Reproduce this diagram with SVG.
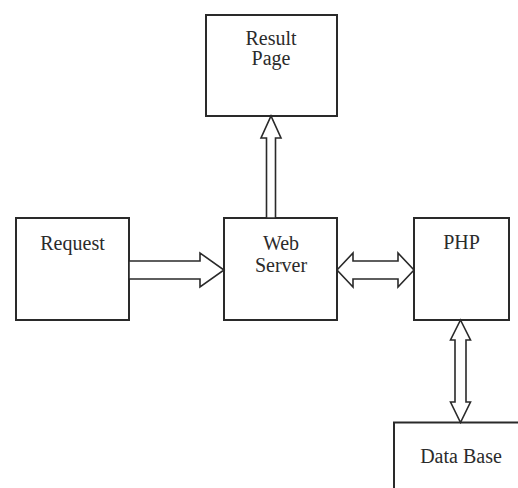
<svg xmlns="http://www.w3.org/2000/svg" width="518" height="488" viewBox="0 0 518 488">
  <style>
    .box { fill: #ffffff; stroke: #2a2a2a; stroke-width: 2; }
    .arrow { fill: #ffffff; stroke: #2a2a2a; stroke-width: 1.6; stroke-linejoin: miter; }
    .label { font-family: "Liberation Serif", "DejaVu Serif", "Times New Roman", serif; font-size: 20px; fill: #2b2b2b; text-anchor: middle; }
  </style>
  <rect width="518" height="488" fill="#ffffff"/>

  <g id="result-page">
    <rect class="box" x="206" y="15" width="131" height="101"/>
    <text class="label" x="271" y="45">Result</text>
    <text class="label" x="271" y="65">Page</text>
  </g>

  <g id="request">
    <rect class="box" x="16" y="218" width="113" height="102"/>
    <text class="label" x="72.5" y="250">Request</text>
  </g>

  <g id="web-server">
    <rect class="box" x="224" y="218" width="113" height="102"/>
    <text class="label" x="281" y="250">Web</text>
    <text class="label" x="281" y="271.5">Server</text>
  </g>

  <g id="php">
    <rect class="box" x="414" y="218" width="95" height="102"/>
    <text class="label" x="461.5" y="248.5">PHP</text>
  </g>

  <g id="data-base">
    <rect class="box" x="394" y="422.5" width="140" height="80"/>
    <text class="label" x="461" y="463">Data Base</text>
  </g>

  <g id="connectors">
    <!-- Request to Web Server -->
    <polygon class="arrow" points="129,261 200,261 200,253 224,270 200,287 200,279 129,279"/>
    <!-- Web Server up to Result Page -->
    <polygon class="arrow" points="266.5,218 266.5,138 261,138 271,116 281,138 275.5,138 275.5,218"/>
    <!-- Web Server to and from PHP -->
    <polygon class="arrow" points="337,270 353,253 353,261 398,261 398,253 414,270 398,287 398,279 353,279 353,287"/>
    <!-- PHP to and from Data Base -->
    <polygon class="arrow" points="460.5,320 470.5,340 466,340 466,402 470.5,402 460.5,422.5 450.5,402 455,402 455,340 450.5,340"/>
  </g>
</svg>
